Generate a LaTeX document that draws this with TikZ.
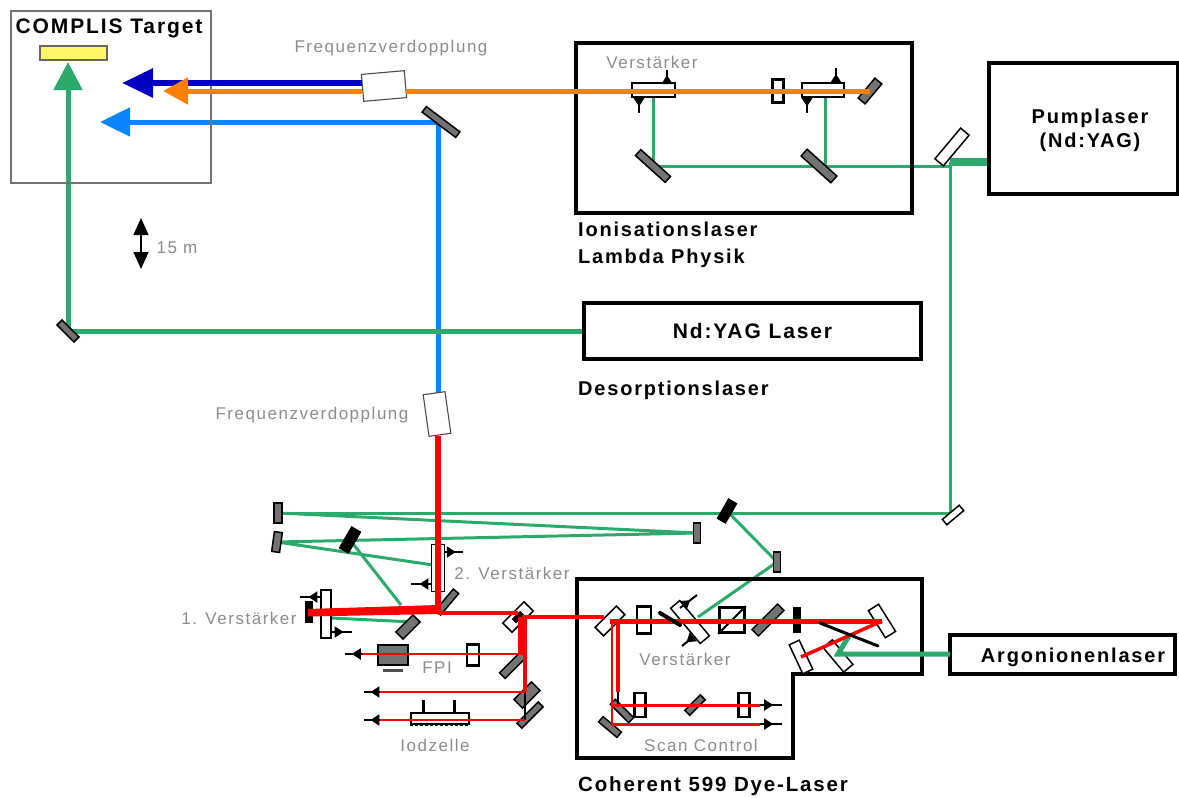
\documentclass[tikz,border=0pt]{standalone}
\usepackage{fontspec}
\setmainfont[LetterSpace=9]{Liberation Sans}
\usepackage{xcolor}
\usetikzlibrary{arrows.meta,backgrounds,decorations.markings,positioning}

\definecolor{beamgreen}{HTML}{2BAA6B}
\definecolor{beamblue}{HTML}{0A84FF}
\definecolor{beamnavy}{HTML}{0000C0}
\definecolor{beamorange}{HTML}{FF8000}
\definecolor{labelgray}{HTML}{8C8C8C}

\tikzset{
  frame/.style={draw=black, line width=3.4pt, rectangle, inner sep=0pt, align=center,
    font=\fontsize{20}{25}\selectfont\bfseries},
  optic/.style={draw=black, fill=white, line width=1.5pt, rectangle, inner sep=0pt},
  opticdark/.style={optic, fill=black!55},
  opticblack/.style={optic, fill=black},
  opticheavy/.style={optic, line width=2.6pt},
  crystal/.style={optic, draw=black!70, line width=1.1pt},
  graylabel/.style={text=labelgray, inner sep=0pt, font=\fontsize{17}{20}\selectfont},
  boldlabel/.style={anchor=west, align=left, inner sep=0pt, font=\fontsize{20}{27}\selectfont\bfseries},
  greenbeam/.style={draw=beamgreen, line width=3pt},
  redbeam/.style={draw=red, line width=3.5pt},
  stubarrow/.style={line width=2pt, postaction={decorate}, decoration={markings,
    mark=at position 0.6 with {\arrow{Triangle[length=9pt,width=11pt]}}}},
}

\begin{document}
\begin{tikzpicture}[x=1pt,y=-1pt]
  \useasboundingbox (0,0) rectangle (1179,798);

  % boxes
  \node[frame, draw=black!55, line width=1.5pt, minimum width=200pt, minimum height=172pt] (targetbox) at (111,97) {};
  \node[draw=black!60, fill=yellow!60, line width=1.2pt, inner sep=0pt, minimum width=67pt, minimum height=14pt] (sample) at (73.5,53) {};
  \node[frame, minimum width=336pt, minimum height=170pt] (ionbox) at (744,128) {};
  \node[frame, minimum width=189pt, minimum height=131pt] (pumpbox) at (1083.5,128.5) {};
  \node[frame, minimum width=337pt, minimum height=56pt, font=\fontsize{21}{25}\selectfont\bfseries] (yagbox) at (752.5,331) {Nd:YAG Laser};
  \node[frame, minimum width=225pt, minimum height=39pt] (argonbox) at (1062.5,654.5) {};
  \draw[line width=3.4pt] (577,579) -- (922,579) -- (922,674) -- (793,674) -- (793,758) -- (577,758) -- cycle;

  % optics
  \foreach \nm/\x/\y/\rot/\lng/\wid/\sty in {%
    doublerA/384/86/5/43/27/crystal,%
    doublerB/437/414/8/22/42/crystal,%
    foldblue/441/122/-37/42/7/opticdark,%
    foldyag/68/331/-45/24/7/opticdark,%
    ampionA/653.5/90/0/43/14/opticheavy,%
    lension/778/91/0/11/23/opticheavy,%
    ampionB/823/90/0/42/14/opticheavy,%
    endion/870/91/50/26/9/opticdark,%
    foldionA/653/166/-42/40/8/opticdark,%
    foldionB/819/166/-42/40/9/opticdark,%
    splitpump/952/147/50/40/11/optic,%
    foldpump/953/515/40/22/7/optic,%
    backA/278/513/90/20/8/opticdark,%
    backB/277/542/82/20/8/opticdark,%
    passdark/350/540/60/24/10/opticblack,%
    farA/697/533/90/20/7/opticdark,%
    splitmain/727/511/60/22/9/opticblack,%
    foldup/777/562/90/20/7/opticdark,%
    amptwo/438/568/90/47/13/optic,%
    cornerdark/447/602/50/28/7/opticdark,%
    ampone/326/614/90/48/10/optic,%
    barone/309/612/90/21/6/opticblack,%
    foldone/408/627/45/24/10/opticdark,%
    splitA/518/617/45/30/13/optic,%
    lensfpi/473/655/90/21/12/opticheavy,%
    fpibody/393/655/0/30/20/opticdark,%
    splitB/513/665/45/30/8/opticdark,%
    splitC/527/695/45/25/12/opticdark,%
    foldiod/530/715/45/30/7/opticdark,%
    splitD/610/621/45/30/12/optic,%
    lensdye/644/620/90/27/14/opticheavy,%
    ampdye/690/622/-50/46/12/optic,%
    prism/732/620/0/25/25/opticheavy,%
    filterdye/768/620/45/36/9/opticdark,%
    bardye/797/620/90/25/6/opticblack,%
    folddyeA/882/621/-58/32/12/optic,%
    folddyeB/801/657/-65/32/11/optic,%
    folddyeC/838/656/-50/32/12/optic,%
    scanA/622/711/-45/26/7/opticdark,%
    scanB/610/727/-40/24/7/opticdark,%
    lensscanA/640/705/90/24/11/opticheavy,%
    scandark/695/705/45/22/7/opticdark,%
    lensscanB/744/705/90/24/11/opticheavy%
  }{
    \node[\sty, minimum width=\lng pt, minimum height=\wid pt, rotate=\rot] (\nm) at (\x,\y) {};
  }
  \draw[line width=2pt] (prism.south west) -- (prism.north east);
  \node[fill=black, inner sep=0pt, minimum width=12pt, minimum height=6pt, rotate=45] (splitcore) at (splitA.center) {};
  \node[fill=black!70, inner sep=0pt, minimum width=20pt, minimum height=3pt] (fpibase) at (393,670) {};

  % iodine cell
  \node[draw=black, line width=2pt, inner sep=0pt, minimum width=58pt, minimum height=11pt] (iodcell) at (440,718) {};
  \draw[line width=3pt] (423,700) -- (423,714) (454,700) -- (454,714);
  \draw[line width=3pt, dash pattern=on 3pt off 2pt] (iodcell.south west) -- (iodcell.south east);

  % named free ends of the beams
  \foreach \nm/\x/\y in {%
    tipnavy/122/83, tiporange/163/91, tipblue/100/122, tipgreen/68/62,%
    bluelow/438/395, bluefold/438/122,%
    pumpout/989/162, pumpjoin/950/162, pumplow/950/513, ionin/950/166, ionjoin/825/166,%
    ampinA/653/97, ampinB/825/97,%
    dyemid/698/617, twoin/433/565, onein/401/605, onelow/331/618, onehigh/413/622,%
    argonjoin/838/654, argonup/849/636, argonend/950/654,%
    redin/438/436, redturn/438/613, redright/518/613, redA/308/609, redB/308/616.5, redC/438/605, redD/438/614,%
    mainout/522/617, mainin/604/617, dyeturn/618/621, vertA/521/617, vertB/521/655, vertT/525/617,%
    fpijoin/525/654, vertC/525/692, iodturn/525/720,%
    fpiend/362/654, sampend/380/692, iodend/380/720,%
    scantopL/612/621, scanlowL/612/724, scanend/618/692, scanstub/618/704, scanleft/612/705,%
    scantopR/760/705, scanlowR/760/724%
  }{
    \coordinate (\nm) at (\x,\y);
  }

  % green and blue underneath the optics
  \begin{scope}[on background layer]
    \draw[greenbeam, line width=8pt] (pumpout) -- (pumpjoin);
    \draw[greenbeam] (pumpjoin) -- (pumplow) -- (backA.center);
    \draw[greenbeam] (ionin) -- (foldionB.center) -- (foldionA.center) -- (ampinA);
    \draw[greenbeam] (ionjoin) -- (ampinB);
    \draw[greenbeam] (backA.center) -- (farA.center) -- (backB.center) -- (twoin);
    \draw[greenbeam] (passdark.center) -- (onein);
    \draw[greenbeam] (splitmain.center) -- (foldup.center) -- (dyemid);
    \draw[greenbeam] (onelow) -- (onehigh);
    \draw[beamblue, line width=5pt, -{Triangle[length=30pt,width=28pt]}] (bluelow) -- (bluefold) -- (tipblue);
    \draw[beamgreen, line width=5pt, -{Triangle[length=28pt,width=28pt]}] (yagbox.west) -- (foldyag.center) -- (tipgreen);
  \end{scope}

  \draw[greenbeam, line width=5pt] (argonend) -- (argonjoin) -- (argonup);
  \draw[beamnavy, line width=6pt, -{Triangle[length=31pt,width=28pt]}] (doublerA.west |- tipnavy) -- (tipnavy);
  \draw[beamorange, line width=5pt, -{Triangle[length=25pt,width=26pt]}] (endion.center) -- (doublerA.east |- tiporange) (doublerA.west |- tiporange) -- (tiporange);

  % red beams
  \draw[draw=red, line width=5.5pt] (redin) -- (redturn);
  \fill[red] (redA) -- (redC) -- (redD) -- (redB) -- cycle;
  \draw[redbeam] (redturn) -- (redright);
  \draw[redbeam] (mainout) -- (mainin);
  \draw[draw=red, line width=6pt] (vertA) -- (vertB);
  \draw[redbeam] (vertT) -- (vertC);
  \draw[draw=black, line width=1.5pt] (vertC) -- (iodturn);
  \draw[redbeam, line width=2.8pt] (fpijoin) -- (fpiend);
  \draw[redbeam, line width=2.8pt] (vertC) -- (sampend);
  \draw[redbeam, line width=2.8pt] (iodturn) -- (iodend);
  \draw[draw=red, line width=5pt] (splitD.center) -- (folddyeA.center);
  \draw[redbeam] (folddyeA.center) -- (folddyeB.center);
  \draw[draw=red, line width=4pt] (dyeturn) -- (scanend);
  \draw[draw=black, line width=2.5pt] (scanend) -- (scanstub);
  \draw[redbeam, line width=2pt] (scantopL) -- (scanlowL);
  \draw[redbeam, line width=3pt] (scanleft) -- (scantopR);
  \draw[redbeam, line width=3pt] (scanlowL) -- (scanlowR);

  % outgoing stubs
  \foreach \n/\ax/\ay/\bx/\by in {%
    1/667/83/667/70, 2/639/97/639/113, 3/836/83/836/68, 4/807/97/807/113,%
    5/445/552/463/552, 6/432/584/411/584, 7/321/597/300/597, 8/331/632/352/632,%
    9/680/608/697/595, 10/693/637/682/646,%
    11/362/654/345/654, 12/380/692/364/692, 13/380/720/364/720,%
    14/760/705/782/705, 15/760/724/782/724%
  }{
    \coordinate (stub\n a) at (\ax,\ay);
    \coordinate (stub\n b) at (\bx,\by);
    \draw[stubarrow] (stub\n a) -- (stub\n b);
  }

  % black bars beside the dye jet
  \coordinate (jetA) at (660,613);
  \coordinate (jetB) at (680,625);
  \coordinate (slitA) at (820,623);
  \coordinate (slitB) at (878,646);
  \draw[line width=4pt, line cap=round] (jetA) -- (jetB);
  \draw[line width=3pt, line cap=round] (slitA) -- (slitB);

  % scale
  \coordinate (scaletop) at (141,218);
  \coordinate (scalelow) at (141,269);
  \draw[line width=1.3pt, {Triangle[length=17pt,width=15pt]}-{Triangle[length=17pt,width=15pt]}] (scaletop) -- (scalelow);

  % texts
  \foreach \nm/\x/\y/\lbl in {%
    labeldoubleA/391/48/Frequenzverdopplung,%
    labeldoubleB/312/415/Frequenzverdopplung,%
    labelionamp/652/62/Verstärker,%
    labelscale/177/248/15 m,%
    labeltwo/512/573/2. Verstärker,%
    labelone/239/618/1. Verstärker,%
    labelfpi/437/668/FPI,%
    labeliod/435/745/Iodzelle,%
    labeldyeamp/685/659/Verstärker,%
    labelscan/701/745/Scan Control%
  }{
    \node[graylabel] (\nm) at (\x,\y) {\lbl};
  }
  \node[font=\fontsize{21}{24}\selectfont\bfseries, inner sep=0pt] (labeltarget) at (109,28) {COMPLIS Target};
  \node[boldlabel] (labelion) at (578,245) {Ionisationslaser\\Lambda Physik};
  \node[boldlabel] (labeldes) at (578,390) {Desorptionslaser};
  \node[boldlabel, font=\fontsize{20.5}{27}\selectfont\bfseries] (labeldye) at (578,786) {Coherent 599 Dye-Laser};
  \node[align=center, inner sep=0pt, font=\fontsize{20}{24}\selectfont\bfseries] (labelpump) at (1090,130) {Pumplaser\\(Nd:YAG)};
  \node[inner sep=0pt, font=\fontsize{20}{24}\selectfont\bfseries] (labelargon) at (1073,657) {Argonionenlaser};
\end{tikzpicture}
\end{document}
